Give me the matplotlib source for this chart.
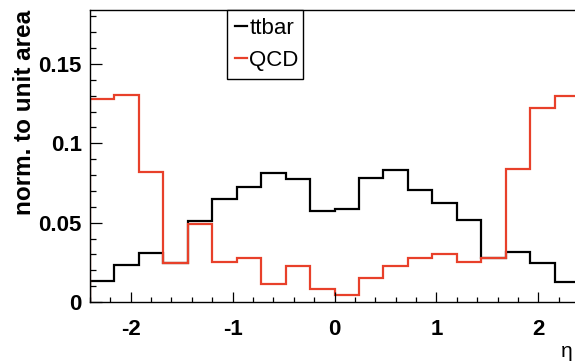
import numpy as np
import matplotlib
matplotlib.use("Agg")
import matplotlib.pyplot as plt
from matplotlib.ticker import MultipleLocator

# ---- data ----
bin_edges = np.linspace(-2.4, 2.4, 21)
ttbar = [0.0132, 0.0233, 0.0307, 0.0244, 0.0513, 0.0650, 0.0723, 0.0813, 0.0778, 0.0576,
         0.0584, 0.0784, 0.0832, 0.0706, 0.0624, 0.0515, 0.0275, 0.0317, 0.0244, 0.0128]
qcd = [0.1280, 0.1305, 0.0820, 0.0244, 0.0494, 0.0250, 0.0279, 0.0113, 0.0227, 0.0084,
       0.0042, 0.0153, 0.0229, 0.0279, 0.0303, 0.0252, 0.0275, 0.0837, 0.1225, 0.1299]
series_labels = ["ttbar", "QCD"]
x_ticks = [-2, -1, 0, 1, 2]
y_ticks = [0, 0.05, 0.1, 0.15]
y_tick_labels = ["0", "0.05", "0.1", "0.15"]

FONT = "Liberation Sans"
RED = "#e8402a"

fig = plt.figure(figsize=(5.75, 3.64), dpi=100)
W, H = 575, 364
ax_left, ax_right, ax_top, ax_bottom = 90, 579, 10, 302
ax = fig.add_axes([ax_left / W, 1 - ax_bottom / H, (ax_right - ax_left) / W, (ax_bottom - ax_top) / H])

ax.stairs(ttbar, bin_edges, color="black", linewidth=1.6, label=series_labels[0])
ax.stairs(qcd, bin_edges, color=RED, linewidth=1.6, label=series_labels[1])

ax.set_xlim(-2.4, 2.4)
ax.set_ylim(0, 0.184)

ax.set_xticks(x_ticks)
ax.set_xticklabels([str(t) for t in x_ticks])
ax.set_yticks(y_ticks)
ax.set_yticklabels(y_tick_labels)
ax.xaxis.set_minor_locator(MultipleLocator(0.2))
ax.yaxis.set_minor_locator(MultipleLocator(0.01))

ax.tick_params(axis="x", which="major", direction="in", length=7.4, width=0.9, pad=12, top=False)
ax.tick_params(axis="x", which="minor", direction="in", length=3.8, width=0.9, top=False)
ax.tick_params(axis="y", which="major", direction="in", length=8.6, width=0.9, pad=6, right=False)
ax.tick_params(axis="y", which="minor", direction="in", length=4.3, width=0.9, right=False)

for lab in ax.get_xticklabels() + ax.get_yticklabels():
    lab.set_fontfamily(FONT)
    lab.set_fontweight("bold")
    lab.set_fontsize(16)

for sp in ax.spines.values():
    sp.set_linewidth(1.0)

ax.set_ylabel("norm. to unit area", fontfamily=FONT, fontweight="bold", fontsize=17.5, loc="top")
ax.yaxis.set_label_coords((36 - ax_left) / (ax_right - ax_left), 1.0)

ax.set_xlabel("η", fontfamily=FONT, fontsize=15, loc="right")
ax.xaxis.set_label_coords((573 - ax_left) / (ax_right - ax_left), (ax_bottom - 342) / (ax_bottom - ax_top))

leg = ax.legend(loc="upper left",
                bbox_to_anchor=((227 - ax_left) / (ax_right - ax_left), 1.0,
                                (303 - 227) / (ax_right - ax_left), 0.0),
                mode="expand", borderaxespad=0, handlelength=0.55, handletextpad=0.1,
                borderpad=0.35, labelspacing=0.5, fancybox=False, framealpha=1,
                prop={"family": FONT, "size": 16})
leg.get_frame().set_edgecolor("black")
leg.get_frame().set_linewidth(1.0)
for h in leg.get_lines():
    h.set_linewidth(1.6)

fig.savefig("out.png", dpi=100)
